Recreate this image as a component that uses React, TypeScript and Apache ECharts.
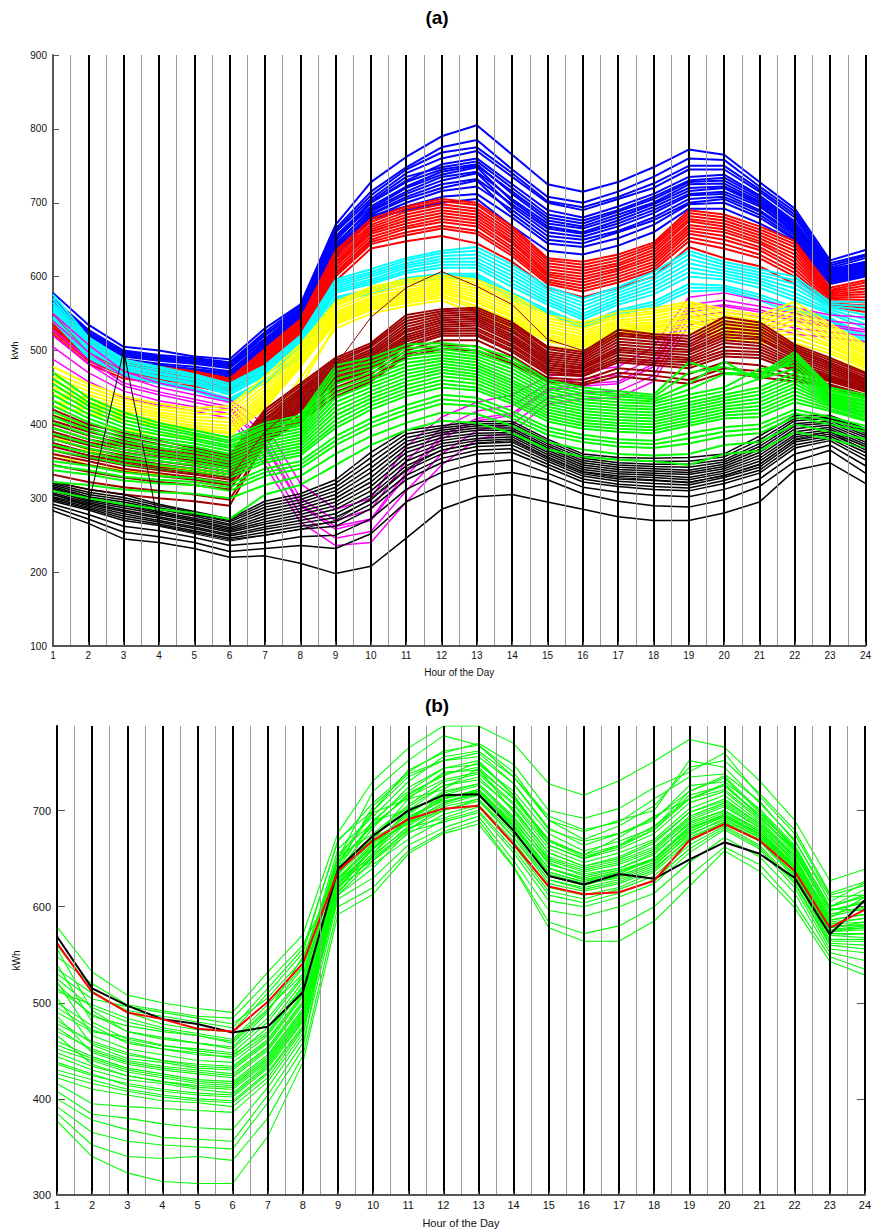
import React, { useEffect, useRef } from "react";
import * as echarts from "echarts";

const HOURS = [1, 2, 3, 4, 5, 6, 7, 8, 9, 10, 11, 12, 13, 14, 15, 16, 17, 18, 19, 20, 21, 22, 23, 24];
const TICKS_A = [100, 200, 300, 400, 500, 600, 700, 800, 900];
const TICKS_B = [300, 400, 500, 600, 700];

// ---- Panel (a): clustered daily load profiles (kWh per hour) ----
const BLUE_DAYS = [
  [578, 535, 505, 500, 492, 488, 530, 562, 670, 728, 762, 790, 805, 765, 725, 715, 728, 748, 772, 765, 728, 692, 622, 636],
  [570, 528, 500, 494, 490, 484, 525, 560, 665, 715, 748, 775, 785, 745, 708, 700, 715, 735, 760, 758, 722, 688, 618, 630],
  [568, 525, 498, 492, 488, 482, 522, 557, 662, 710, 745, 768, 775, 740, 702, 694, 708, 726, 750, 750, 718, 684, 615, 628],
  [565, 522, 496, 490, 486, 480, 520, 555, 660, 705, 740, 760, 770, 735, 700, 690, 705, 720, 745, 745, 715, 680, 612, 625],
  [562, 520, 494, 488, 484, 478, 516, 553, 652, 702, 735, 748, 756, 720, 684, 676, 690, 708, 730, 734, 708, 672, 608, 620],
  [560, 518, 492, 486, 482, 476, 515, 552, 655, 700, 730, 752, 760, 725, 690, 680, 695, 712, 735, 738, 710, 675, 610, 620],
  [558, 515, 488, 482, 478, 472, 512, 550, 650, 695, 722, 742, 750, 715, 680, 672, 688, 705, 728, 730, 705, 670, 606, 618],
  [556, 508, 486, 478, 474, 468, 509, 546, 648, 700, 728, 745, 752, 712, 676, 668, 684, 700, 725, 726, 702, 668, 604, 616],
  [555, 510, 485, 480, 475, 470, 510, 548, 645, 690, 715, 735, 742, 705, 672, 665, 680, 698, 720, 722, 700, 665, 602, 614],
  [553, 503, 480, 474, 470, 464, 506, 544, 642, 692, 720, 738, 748, 702, 668, 660, 676, 694, 716, 720, 697, 662, 600, 612],
  [552, 505, 482, 476, 472, 466, 508, 545, 640, 685, 708, 725, 732, 698, 665, 658, 672, 690, 712, 715, 695, 660, 600, 610],
  [549, 498, 476, 470, 466, 460, 503, 541, 637, 688, 712, 730, 740, 695, 660, 654, 668, 686, 710, 712, 690, 658, 598, 608],
  [550, 500, 478, 472, 468, 462, 505, 542, 635, 680, 700, 716, 722, 690, 655, 650, 662, 680, 705, 708, 688, 655, 596, 606],
  [548, 495, 474, 468, 464, 458, 502, 540, 630, 682, 695, 708, 712, 680, 645, 640, 652, 670, 698, 700, 680, 650, 592, 602],
  [547, 496, 472, 468, 463, 457, 501, 539, 633, 684, 705, 720, 730, 685, 650, 645, 660, 676, 700, 705, 684, 652, 594, 604],
  [546, 492, 470, 466, 461, 455, 500, 538, 626, 678, 690, 700, 705, 668, 635, 630, 642, 660, 692, 692, 672, 648, 590, 600],
];
const RED_DAYS = [
  [552, 512, 488, 478, 472, 462, 502, 542, 635, 678, 695, 705, 700, 668, 625, 620, 630, 646, 690, 684, 668, 648, 585, 595],
  [548, 508, 485, 476, 470, 460, 500, 540, 632, 674, 692, 702, 697, 664, 622, 616, 626, 643, 686, 680, 664, 644, 582, 592],
  [545, 505, 482, 474, 468, 458, 498, 538, 628, 670, 688, 698, 692, 660, 618, 612, 622, 640, 682, 676, 660, 640, 580, 588],
  [542, 502, 480, 472, 466, 456, 496, 536, 624, 667, 684, 694, 688, 656, 614, 608, 618, 636, 678, 672, 656, 635, 578, 584],
  [540, 500, 478, 470, 465, 455, 494, 534, 620, 664, 680, 690, 684, 652, 610, 604, 615, 632, 675, 668, 652, 630, 576, 580],
  [537, 497, 476, 468, 463, 453, 492, 532, 617, 661, 676, 686, 680, 648, 606, 600, 611, 628, 670, 664, 648, 625, 574, 576],
  [535, 495, 474, 466, 462, 452, 490, 530, 614, 658, 672, 682, 676, 645, 603, 596, 608, 624, 666, 660, 645, 620, 572, 572],
  [532, 492, 472, 464, 460, 450, 488, 528, 610, 654, 668, 678, 672, 640, 600, 592, 604, 620, 662, 655, 640, 615, 570, 568],
  [530, 490, 470, 462, 458, 448, 486, 526, 606, 650, 665, 674, 668, 636, 596, 588, 600, 616, 658, 650, 636, 610, 567, 565],
  [528, 488, 468, 461, 456, 446, 484, 524, 603, 647, 660, 669, 662, 632, 593, 584, 596, 612, 653, 644, 630, 605, 564, 561],
  [526, 486, 466, 460, 455, 445, 482, 522, 600, 644, 656, 665, 658, 628, 590, 580, 592, 608, 648, 638, 625, 600, 562, 558],
  [522, 482, 462, 456, 452, 442, 478, 518, 594, 638, 648, 655, 645, 620, 585, 572, 585, 600, 640, 625, 614, 590, 560, 552],
];
const CYAN_DAYS = [
  [576, 518, 488, 478, 468, 455, 480, 520, 596, 610, 625, 635, 640, 616, 586, 570, 586, 606, 635, 620, 610, 600, 566, 566],
  [570, 515, 486, 476, 466, 452, 478, 517, 593, 606, 622, 632, 635, 611, 582, 565, 582, 601, 630, 616, 606, 595, 563, 560],
  [565, 512, 483, 473, 464, 450, 475, 514, 590, 603, 618, 628, 630, 606, 578, 560, 578, 596, 624, 612, 602, 590, 560, 555],
  [561, 509, 480, 470, 461, 447, 472, 511, 587, 600, 615, 624, 625, 601, 574, 555, 574, 591, 618, 608, 598, 584, 558, 548],
  [558, 506, 478, 468, 459, 444, 470, 508, 584, 596, 612, 620, 620, 596, 570, 550, 570, 586, 612, 604, 594, 578, 555, 542],
  [555, 503, 476, 465, 456, 442, 468, 505, 581, 593, 608, 616, 616, 591, 566, 546, 566, 581, 606, 600, 590, 573, 552, 536],
  [552, 500, 474, 463, 454, 440, 466, 502, 578, 590, 605, 612, 612, 586, 562, 542, 562, 576, 600, 596, 585, 568, 550, 530],
  [546, 495, 470, 459, 449, 435, 460, 496, 572, 583, 598, 604, 604, 578, 555, 535, 555, 566, 590, 588, 576, 558, 544, 520],
  [543, 492, 468, 457, 447, 432, 458, 493, 570, 580, 595, 601, 601, 574, 552, 532, 552, 562, 585, 585, 572, 554, 542, 516],
  [540, 490, 466, 455, 445, 430, 456, 490, 568, 576, 592, 598, 598, 570, 550, 530, 550, 558, 580, 582, 568, 550, 540, 512],
];
const YELLOW_DAYS = [
  [478, 455, 438, 428, 422, 425, 465, 508, 566, 586, 596, 602, 596, 576, 548, 538, 552, 557, 566, 556, 548, 566, 536, 508],
  [470, 450, 434, 424, 418, 420, 458, 504, 563, 583, 593, 599, 592, 572, 544, 534, 548, 553, 563, 552, 544, 560, 532, 504],
  [465, 445, 430, 420, 414, 414, 452, 500, 560, 580, 590, 596, 588, 568, 540, 530, 545, 550, 560, 548, 540, 555, 528, 500],
  [458, 440, 426, 416, 410, 408, 447, 496, 556, 576, 586, 593, 584, 564, 536, 526, 541, 546, 556, 544, 536, 550, 524, 497],
  [450, 435, 422, 413, 406, 403, 442, 492, 552, 572, 582, 590, 580, 560, 532, 522, 538, 542, 552, 540, 532, 545, 520, 494],
  [445, 430, 418, 410, 402, 398, 438, 488, 549, 569, 579, 587, 576, 556, 528, 518, 535, 538, 548, 537, 529, 540, 516, 490],
  [440, 426, 414, 406, 398, 394, 434, 485, 546, 566, 576, 584, 572, 552, 525, 515, 532, 535, 545, 534, 526, 535, 512, 487],
  [432, 420, 410, 402, 395, 390, 430, 482, 543, 563, 573, 581, 568, 548, 521, 512, 529, 532, 541, 531, 523, 528, 508, 484],
  [425, 415, 405, 398, 392, 388, 426, 480, 540, 560, 570, 578, 565, 545, 518, 510, 527, 530, 538, 528, 520, 522, 505, 482],
  [412, 400, 392, 386, 382, 385, 422, 478, 538, 557, 567, 575, 560, 541, 515, 507, 524, 527, 534, 524, 517, 516, 500, 479],
  [360, 345, 338, 332, 326, 320, 380, 450, 535, 555, 564, 572, 556, 538, 512, 504, 522, 524, 530, 520, 514, 510, 496, 476],
  [385, 365, 352, 344, 338, 332, 398, 462, 530, 550, 560, 568, 550, 530, 506, 500, 519, 520, 525, 516, 511, 502, 490, 472],
];
const MAGENTA_DAYS = [
  [550, 508, 472, 456, 446, 434, 400, 320, 285, 300, 370, 410, 430, 440, 465, 472, 478, 505, 572, 578, 568, 558, 548, 545],
  [540, 498, 465, 450, 440, 430, 385, 300, 270, 285, 350, 395, 418, 425, 455, 462, 466, 490, 562, 568, 560, 550, 540, 535],
  [528, 488, 456, 444, 434, 424, 375, 292, 262, 272, 335, 385, 408, 415, 448, 455, 458, 482, 556, 562, 555, 544, 535, 528],
  [520, 482, 452, 440, 430, 420, 370, 290, 258, 270, 330, 380, 405, 412, 445, 452, 455, 478, 552, 560, 552, 540, 532, 525],
  [505, 470, 445, 432, 424, 414, 355, 278, 246, 255, 310, 360, 392, 400, 436, 442, 445, 466, 545, 552, 545, 530, 525, 520],
  [488, 458, 436, 426, 418, 408, 345, 268, 236, 240, 295, 345, 380, 390, 428, 434, 436, 458, 535, 545, 538, 522, 518, 512],
];
const DARKRED_DAYS = [
  [420, 400, 388, 378, 368, 358, 420, 455, 490, 510, 548, 556, 558, 538, 505, 498, 528, 522, 520, 545, 538, 508, 490, 470],
  [412, 395, 383, 373, 364, 355, 416, 452, 487, 507, 544, 553, 555, 535, 502, 495, 524, 519, 516, 540, 534, 505, 487, 468],
  [405, 390, 378, 368, 360, 352, 412, 448, 484, 505, 540, 550, 552, 532, 498, 492, 520, 516, 512, 536, 530, 502, 484, 465],
  [400, 385, 374, 365, 357, 349, 408, 445, 481, 501, 536, 547, 549, 528, 495, 489, 516, 512, 508, 531, 526, 499, 481, 462],
  [395, 380, 370, 362, 354, 346, 405, 442, 478, 498, 532, 544, 546, 525, 492, 486, 512, 508, 505, 526, 522, 496, 478, 460],
  [390, 376, 366, 358, 351, 343, 401, 439, 475, 495, 528, 541, 543, 521, 489, 483, 508, 504, 501, 522, 518, 493, 475, 458],
  [385, 372, 362, 355, 348, 340, 398, 436, 472, 492, 525, 538, 540, 518, 486, 480, 504, 500, 498, 518, 515, 490, 472, 456],
  [380, 367, 358, 350, 344, 336, 395, 433, 469, 489, 521, 535, 537, 515, 483, 477, 501, 497, 494, 514, 510, 487, 469, 454],
  [375, 362, 354, 346, 340, 332, 392, 430, 466, 486, 518, 532, 534, 512, 480, 475, 498, 494, 490, 510, 506, 484, 466, 452],
  [370, 358, 350, 342, 336, 328, 389, 427, 463, 483, 515, 529, 530, 508, 477, 472, 494, 490, 487, 505, 502, 481, 464, 450],
  [365, 354, 345, 338, 332, 325, 386, 424, 460, 480, 512, 526, 527, 505, 474, 470, 490, 486, 484, 500, 498, 478, 462, 448],
  [360, 350, 340, 334, 328, 321, 384, 421, 457, 477, 508, 523, 523, 501, 471, 467, 487, 483, 480, 496, 494, 475, 460, 446],
  [355, 345, 336, 330, 325, 318, 382, 418, 455, 474, 505, 520, 520, 498, 468, 465, 484, 480, 476, 492, 490, 472, 458, 444],
  [345, 336, 328, 322, 318, 312, 378, 412, 450, 468, 500, 514, 514, 492, 463, 460, 476, 472, 468, 484, 480, 466, 454, 440],
  [332, 322, 315, 310, 305, 298, 376, 408, 444, 462, 495, 507, 506, 485, 460, 456, 470, 466, 460, 476, 472, 462, 450, 438],
  [322, 312, 305, 300, 296, 290, 375, 404, 438, 458, 492, 502, 500, 482, 458, 453, 465, 460, 455, 470, 464, 458, 452, 437],
];
const BLACK_DAYS = [
  [322, 312, 305, 292, 282, 272, 296, 306, 325, 362, 392, 398, 404, 404, 380, 360, 355, 354, 355, 360, 384, 412, 412, 394],
  [320, 308, 301, 290, 280, 270, 292, 302, 320, 355, 387, 395, 401, 401, 377, 357, 352, 350, 350, 356, 379, 408, 410, 391],
  [318, 305, 298, 287, 278, 268, 288, 298, 315, 348, 382, 392, 398, 398, 374, 354, 348, 346, 346, 352, 374, 405, 408, 388],
  [316, 302, 295, 285, 276, 265, 284, 294, 310, 341, 377, 389, 395, 395, 371, 351, 345, 343, 342, 349, 370, 401, 405, 385],
  [314, 300, 292, 282, 273, 263, 280, 290, 305, 335, 372, 386, 392, 392, 368, 348, 342, 340, 338, 346, 366, 398, 402, 382],
  [312, 298, 290, 280, 271, 260, 276, 286, 300, 328, 367, 382, 388, 389, 365, 345, 339, 337, 335, 343, 362, 394, 399, 379],
  [310, 296, 287, 278, 269, 258, 272, 282, 295, 322, 362, 378, 385, 386, 362, 342, 336, 334, 332, 340, 358, 390, 396, 376],
  [307, 294, 284, 275, 266, 256, 268, 278, 290, 316, 356, 374, 381, 383, 359, 339, 333, 331, 328, 337, 354, 386, 393, 373],
  [305, 292, 282, 273, 264, 254, 265, 274, 285, 310, 350, 370, 378, 380, 356, 336, 330, 328, 325, 334, 350, 383, 390, 370],
  [302, 290, 279, 270, 261, 251, 261, 270, 279, 304, 344, 365, 374, 376, 353, 333, 326, 324, 321, 331, 346, 379, 387, 366],
  [300, 288, 276, 268, 259, 249, 258, 266, 274, 298, 338, 360, 370, 372, 350, 330, 323, 320, 318, 328, 342, 376, 384, 362],
  [298, 286, 273, 265, 256, 246, 254, 262, 268, 292, 331, 354, 365, 367, 346, 326, 319, 316, 314, 324, 338, 372, 381, 357],
  [296, 284, 270, 263, 254, 244, 250, 258, 262, 286, 325, 348, 360, 362, 342, 322, 316, 312, 310, 320, 334, 368, 378, 352],
  [292, 278, 262, 256, 247, 236, 240, 248, 250, 272, 312, 335, 348, 352, 334, 315, 308, 304, 302, 312, 326, 360, 372, 344],
  [288, 272, 254, 248, 240, 228, 232, 236, 232, 252, 295, 318, 330, 335, 325, 306, 296, 290, 288, 298, 316, 350, 365, 334],
  [283, 266, 245, 240, 232, 220, 222, 212, 198, 208, 246, 285, 302, 305, 295, 285, 275, 270, 270, 280, 295, 338, 348, 320],
];
const GREEN_DAYS = [
  [470, 436, 416, 402, 392, 382, 402, 412, 480, 490, 508, 510, 505, 490, 460, 450, 445, 440, 484, 470, 468, 498, 450, 440],
  [462, 430, 411, 398, 388, 378, 398, 408, 474, 485, 503, 506, 500, 485, 456, 446, 441, 437, 470, 478, 464, 494, 447, 437],
  [455, 425, 406, 394, 385, 375, 395, 405, 468, 480, 498, 502, 496, 480, 452, 442, 438, 434, 455, 485, 460, 490, 445, 435],
  [447, 420, 401, 390, 381, 371, 391, 401, 461, 475, 493, 498, 492, 475, 448, 438, 434, 431, 447, 468, 468, 485, 442, 432],
  [440, 414, 396, 386, 378, 368, 388, 398, 455, 470, 488, 494, 488, 470, 444, 434, 430, 428, 440, 450, 475, 480, 440, 430],
  [432, 408, 391, 381, 374, 364, 384, 394, 448, 465, 483, 490, 484, 465, 440, 430, 426, 424, 435, 445, 462, 475, 438, 427],
  [425, 403, 386, 377, 370, 360, 380, 390, 442, 460, 478, 486, 480, 460, 436, 426, 422, 420, 430, 440, 450, 470, 436, 425],
  [417, 397, 381, 372, 366, 356, 376, 386, 436, 455, 473, 482, 476, 456, 432, 422, 418, 416, 426, 436, 445, 465, 434, 422],
  [410, 392, 376, 368, 362, 352, 372, 382, 430, 450, 468, 478, 472, 452, 428, 418, 414, 412, 422, 432, 440, 460, 432, 420],
  [402, 386, 371, 363, 357, 348, 368, 378, 424, 445, 463, 474, 468, 448, 424, 414, 410, 408, 418, 428, 435, 455, 430, 417],
  [395, 380, 366, 359, 353, 344, 364, 374, 418, 440, 458, 470, 464, 444, 420, 410, 406, 404, 414, 424, 430, 450, 428, 415],
  [387, 374, 361, 354, 349, 340, 360, 370, 412, 435, 453, 465, 460, 440, 416, 406, 402, 400, 410, 420, 425, 445, 426, 412],
  [380, 368, 356, 350, 345, 336, 356, 366, 406, 430, 448, 460, 455, 436, 412, 402, 398, 396, 406, 416, 420, 440, 424, 410],
  [372, 362, 351, 345, 340, 332, 352, 362, 400, 425, 443, 455, 450, 432, 408, 398, 394, 392, 402, 412, 415, 435, 421, 407],
  [365, 356, 346, 340, 336, 328, 348, 358, 395, 420, 438, 450, 446, 428, 404, 394, 390, 388, 398, 408, 410, 430, 418, 405],
  [350, 344, 335, 330, 327, 320, 340, 350, 384, 408, 426, 440, 436, 418, 396, 386, 380, 378, 388, 396, 400, 420, 410, 398],
  [344, 338, 329, 325, 322, 315, 335, 345, 378, 402, 420, 434, 430, 413, 391, 381, 375, 373, 381, 390, 394, 415, 405, 394],
  [338, 332, 324, 320, 318, 310, 330, 340, 372, 396, 414, 428, 425, 408, 386, 376, 370, 368, 374, 384, 388, 410, 400, 390],
  [322, 318, 312, 308, 306, 300, 318, 330, 360, 384, 402, 416, 414, 398, 376, 366, 360, 358, 360, 372, 376, 400, 390, 380],
  [310, 300, 292, 285, 280, 272, 305, 318, 345, 372, 392, 405, 402, 388, 366, 356, 352, 350, 345, 360, 364, 390, 380, 368],
];
const SPIKE_DAY = [305, 290, 500, 262, 252, 242, 250, 258, 270, 300, 340, 365, 375, 378, 355, 335, 328, 325, 322, 330, 345, 380, 390, 365];
const PEAK_DAY = [370, 358, 348, 340, 334, 328, 390, 430, 480, 545, 585, 607, 587, 562, 515, 500, 522, 518, 512, 530, 526, 500, 482, 462];

// ---- Panel (b): one cluster's member days with two representative profiles ----
const MEMBER_DAYS = [
  [579, 532, 508, 500, 494, 490, 532, 571, 677, 731, 765, 788, 788, 770, 728, 716, 731, 751, 774, 766, 731, 690, 627, 639],
  [548, 520, 498, 492, 486, 484, 522, 560, 630, 662, 690, 712, 720, 684, 640, 628, 636, 650, 682, 694, 676, 640, 578, 582],
  [560, 512, 490, 478, 472, 470, 510, 552, 670, 700, 742, 760, 770, 748, 700, 692, 702, 724, 740, 760, 715, 676, 612, 622],
  [535, 510, 492, 486, 480, 474, 515, 556, 668, 708, 740, 762, 768, 735, 690, 670, 684, 705, 745, 752, 718, 680, 614, 626],
  [530, 504, 496, 490, 484, 478, 505, 545, 650, 720, 752, 778, 768, 740, 690, 678, 690, 700, 752, 745, 708, 670, 605, 625],
  [525, 495, 480, 472, 466, 458, 492, 536, 648, 684, 716, 738, 745, 712, 668, 652, 662, 680, 716, 726, 696, 662, 600, 610],
  [512, 498, 484, 474, 468, 462, 498, 538, 660, 694, 730, 756, 762, 735, 694, 680, 688, 712, 735, 738, 710, 668, 610, 612],
  [556, 492, 470, 464, 458, 454, 490, 548, 642, 705, 738, 752, 756, 728, 682, 664, 676, 690, 726, 730, 702, 664, 600, 618],
  [520, 486, 476, 470, 466, 460, 494, 530, 655, 688, 724, 744, 748, 720, 676, 658, 668, 682, 720, 734, 698, 660, 596, 604],
  [515, 488, 470, 462, 458, 452, 484, 528, 644, 686, 714, 732, 740, 708, 664, 650, 664, 684, 712, 722, 692, 660, 596, 604],
  [540, 480, 462, 455, 452, 448, 480, 526, 646, 698, 712, 740, 742, 714, 670, 654, 672, 694, 712, 726, 694, 658, 592, 600],
  [500, 476, 458, 452, 446, 444, 474, 522, 638, 682, 718, 736, 750, 716, 664, 650, 660, 676, 708, 720, 690, 654, 598, 596],
  [495, 472, 460, 452, 448, 442, 468, 516, 636, 674, 704, 726, 735, 700, 656, 642, 650, 666, 698, 710, 686, 652, 590, 598],
  [490, 470, 464, 456, 450, 446, 470, 518, 652, 676, 706, 730, 738, 706, 660, 646, 656, 670, 702, 716, 688, 652, 588, 610],
  [522, 466, 452, 446, 440, 438, 466, 514, 632, 690, 700, 726, 732, 702, 656, 642, 652, 668, 698, 712, 686, 650, 586, 592],
  [482, 458, 446, 440, 434, 432, 460, 508, 630, 666, 698, 718, 728, 692, 650, 638, 646, 660, 692, 706, 682, 648, 586, 592],
  [478, 460, 448, 440, 436, 434, 462, 510, 640, 670, 712, 722, 744, 698, 652, 640, 648, 662, 694, 708, 684, 648, 584, 588],
  [505, 456, 442, 438, 432, 430, 458, 506, 628, 664, 696, 720, 728, 694, 648, 636, 644, 658, 690, 704, 682, 646, 582, 584],
  [474, 450, 438, 432, 428, 424, 452, 500, 626, 660, 690, 712, 722, 688, 646, 632, 640, 656, 686, 700, 678, 644, 582, 588],
  [470, 452, 440, 434, 430, 426, 454, 502, 636, 672, 690, 716, 726, 690, 644, 634, 640, 654, 688, 700, 680, 644, 580, 580],
  [486, 448, 436, 430, 426, 422, 450, 498, 624, 660, 702, 712, 722, 686, 640, 630, 638, 650, 684, 698, 678, 642, 576, 578],
  [460, 444, 432, 426, 420, 418, 446, 494, 634, 668, 686, 708, 720, 684, 636, 626, 636, 648, 682, 696, 676, 640, 574, 576],
  [456, 442, 430, 424, 418, 416, 444, 492, 622, 660, 692, 714, 720, 682, 640, 628, 634, 650, 680, 696, 676, 642, 578, 584],
  [452, 440, 428, 422, 416, 414, 442, 490, 620, 656, 694, 710, 716, 680, 632, 622, 632, 646, 678, 694, 674, 638, 572, 572],
  [448, 434, 424, 418, 412, 410, 438, 486, 616, 652, 684, 706, 716, 678, 634, 624, 630, 644, 674, 692, 672, 638, 574, 578],
  [466, 436, 424, 418, 414, 412, 440, 488, 630, 650, 680, 704, 712, 676, 628, 620, 628, 642, 676, 690, 672, 636, 570, 568],
  [444, 430, 420, 416, 410, 406, 436, 484, 618, 662, 688, 700, 710, 672, 624, 616, 624, 638, 672, 688, 670, 632, 566, 566],
  [436, 424, 416, 410, 406, 404, 434, 482, 620, 656, 688, 708, 718, 680, 636, 626, 632, 646, 678, 694, 674, 640, 576, 580],
  [438, 426, 414, 408, 404, 402, 432, 480, 626, 648, 676, 696, 706, 668, 620, 612, 620, 636, 668, 686, 668, 630, 564, 564],
  [430, 420, 410, 404, 400, 398, 428, 476, 614, 654, 682, 692, 704, 664, 616, 608, 618, 632, 664, 684, 664, 626, 562, 560],
  [426, 416, 408, 402, 398, 396, 426, 474, 612, 648, 680, 700, 712, 672, 628, 618, 626, 640, 670, 688, 668, 634, 570, 572],
  [422, 410, 404, 398, 396, 392, 422, 472, 622, 644, 670, 690, 700, 660, 612, 604, 614, 628, 660, 682, 662, 624, 560, 556],
  [416, 395, 392, 390, 388, 386, 418, 468, 612, 640, 678, 688, 698, 656, 606, 600, 610, 624, 656, 680, 660, 620, 556, 552],
  [408, 384, 380, 374, 370, 368, 412, 464, 650, 700, 735, 752, 760, 728, 680, 668, 676, 692, 720, 736, 700, 662, 600, 612],
  [400, 378, 368, 360, 358, 356, 404, 458, 608, 630, 664, 682, 694, 648, 596, 590, 600, 614, 646, 672, 652, 614, 552, 544],
  [392, 365, 356, 352, 350, 348, 396, 452, 640, 690, 720, 744, 752, 716, 668, 654, 664, 680, 712, 728, 694, 656, 596, 606],
  [385, 352, 340, 338, 340, 336, 380, 445, 600, 620, 658, 678, 690, 642, 584, 572, 580, 600, 632, 662, 644, 604, 548, 535],
  [377, 340, 323, 314, 312, 312, 361, 438, 592, 613, 655, 676, 686, 641, 578, 564, 564, 585, 621, 658, 637, 599, 543, 529],
];
const CENTROID_BLACK = [569, 515, 497, 483, 478, 469, 475, 511, 639, 674, 700, 716, 717, 679, 632, 623, 634, 629, 649, 667, 655, 630, 571, 607];
const CENTROID_RED = [562, 511, 490, 483, 473, 470, 501, 541, 637, 669, 691, 702, 705, 665, 621, 613, 615, 627, 669, 686, 669, 637, 578, 597];

const FONT = "'Liberation Sans', Arial, Helvetica, sans-serif";

function makeLines(rows: number[][], color: string, width: number, xi: number, yi: number, z = 2) {
  return rows.map((row) => ({
    type: "line",
    xAxisIndex: xi,
    yAxisIndex: yi,
    data: row.map((v, i) => [HOURS[i], v]),
    symbol: "none",
    showSymbol: false,
    silent: true,
    animation: false,
    clip: true,
    z,
    lineStyle: { color, width },
  }));
}

function xAxisFor(gridIndex: number, fontSize: number, nameGap: number, showMin: boolean) {
  return {
    type: "value",
    gridIndex,
    min: 1,
    max: 24,
    interval: 1,
    z: 5,
    name: "Hour of the Day",
    nameLocation: "middle",
    nameGap,
    nameTextStyle: { fontFamily: FONT, fontSize, color: "#111" },
    axisLine: { show: true, onZero: false, lineStyle: { color: "#555", width: 2 } },
    axisTick: { show: true, inside: true, length: 4, lineStyle: { color: "#555" } },
    axisLabel: { fontFamily: FONT, fontSize, color: "#111", margin: 4 },
    splitLine: { show: true, showMinLine: showMin, lineStyle: { color: "#000", width: 2 } },
    minorTick: { show: false, splitNumber: 2 },
    minorSplitLine: { show: true, lineStyle: { color: "#9a9a9a", width: 1 } },
  };
}

export default function App() {
  const ref = useRef<HTMLDivElement>(null);
  useEffect(() => {
    if (!ref.current) return;
    const chart = echarts.init(ref.current, undefined, { renderer: "svg" });
    const W = 2;
    const series: any[] = [
      ...makeLines(BLUE_DAYS, "#0000ff", W, 0, 0),
      ...makeLines(RED_DAYS, "#ff0000", W, 0, 0),
      ...makeLines(CYAN_DAYS, "#00ffff", W, 0, 0),
      ...makeLines(MAGENTA_DAYS, "#ff00ff", 1.5, 0, 0),
      ...makeLines(YELLOW_DAYS, "#ffff00", W, 0, 0),
      ...makeLines(DARKRED_DAYS, "#a00000", W, 0, 0),
      ...makeLines(BLACK_DAYS, "#000000", 1.5, 0, 0),
      ...makeLines(GREEN_DAYS, "#00ff00", W, 0, 0),
      ...makeLines([SPIKE_DAY], "#000000", 1, 0, 0),
      ...makeLines([PEAK_DAY], "#a00000", 1, 0, 0),
      ...makeLines(MEMBER_DAYS, "#00ff00", 1.1, 1, 1),
      ...makeLines([CENTROID_BLACK], "#000000", 2, 1, 1, 3),
      ...makeLines([CENTROID_RED], "#ff0000", 2, 1, 1, 3),
    ];
    chart.setOption({
      animation: false,
      backgroundColor: "#ffffff",
      title: [
        { text: "(a)", left: "center", top: 3, textStyle: { fontFamily: FONT, fontSize: 19, fontWeight: "bold", color: "#000" } },
        { text: "(b)", left: "center", top: 691, textStyle: { fontFamily: FONT, fontSize: 19, fontWeight: "bold", color: "#000" } },
      ],
      grid: [
        { left: 53, right: 7, top: 55, bottom: 583, containLabel: false },
        { left: 57, right: 6, top: 726, bottom: 31, containLabel: false },
      ],
      xAxis: [xAxisFor(0, 10, 21, false), xAxisFor(1, 11, 22, true)],
      yAxis: [
        {
          type: "value",
          gridIndex: 0,
          min: 100,
          max: 900,
          interval: 100,
          name: "kWh",
          nameLocation: "middle",
          nameGap: 33,
          nameRotate: 90,
          nameTextStyle: { fontFamily: FONT, fontSize: 9, color: "#111" },
          axisLine: { show: true, lineStyle: { color: "#555", width: 2 } },
          axisTick: { show: true, inside: true, length: 6, lineStyle: { color: "#555" }, customValues: TICKS_A },
          axisLabel: { fontFamily: FONT, fontSize: 10, color: "#111", margin: 6, customValues: TICKS_A },
          splitLine: { show: false },
        },
        {
          type: "value",
          gridIndex: 1,
          min: 300,
          max: 788,
          name: "kWh",
          nameLocation: "middle",
          nameGap: 34,
          nameRotate: 90,
          nameTextStyle: { fontFamily: FONT, fontSize: 10, color: "#111" },
          axisLine: { show: true, lineStyle: { color: "#000", width: 2 } },
          axisTick: { show: true, inside: true, length: 8, lineStyle: { color: "#555" }, customValues: TICKS_B },
          axisLabel: { fontFamily: FONT, fontSize: 11, color: "#111", margin: 6, customValues: TICKS_B },
          splitLine: { show: false },
        },
        {
          type: "value",
          gridIndex: 1,
          position: "right",
          min: 300,
          max: 788,
          axisLine: { show: false },
          axisTick: { show: true, inside: true, length: 8, lineStyle: { color: "#555" }, customValues: TICKS_B },
          axisLabel: { show: false },
          splitLine: { show: false },
        },
      ],
      series,
    });
    return () => chart.dispose();
  }, []);
  return <div ref={ref} style={{ position: "fixed", left: 0, top: 0, width: 874, height: 1229, background: "#fff" }} />;
}
